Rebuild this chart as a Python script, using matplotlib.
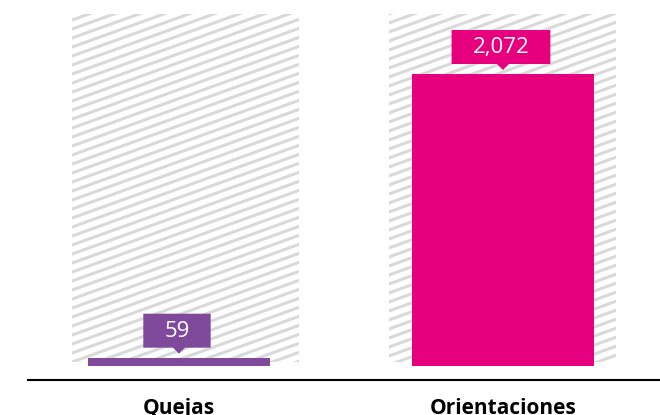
import matplotlib
matplotlib.use("Agg")
import matplotlib.pyplot as plt
import matplotlib.transforms as mtransforms
from matplotlib.patches import Polygon

plt.rcParams['font.family'] = ['Open Sans', 'DejaVu Sans']

# datos
categorias = ["Quejas", "Orientaciones"]
valores = [59, 2072]
etiquetas = ["59", "2,072"]
colores = ["#7F4A9B", "#E6007E"]
fondo_max = 2500

fig = plt.figure(figsize=(6.6, 4.15), dpi=100)
ax = fig.add_axes([28 / 660, 35 / 415, 632 / 660, 380 / 415])

pos = list(range(len(categorias)))
pos_fondo = [pos[0] + 0.02, pos[1] - 0.002]

# barras de fondo rayadas
fondos = ax.bar(pos_fondo, [fondo_max - 30] * len(pos), bottom=30, width=0.70,
                color="white", edgecolor="none", zorder=1)
barras = ax.bar(pos, valores, width=0.559, color=colores, zorder=3)

ax.set_xlim(-0.466, 1.4846)
ax.set_ylim(-99.3, 2597)

for s in ["left", "right", "top"]:
    ax.spines[s].set_visible(False)
ax.spines["bottom"].set_linewidth(1.5)
ax.set_yticks([])
ax.set_xticks(pos)
ax.set_xticklabels(categorias, fontsize=15, fontweight="bold")
ax.tick_params(axis="x", length=0, pad=13)

# rayado diagonal
ident = mtransforms.IdentityTransform()
for f in fondos:
    for k in range(-120, 60):
        y0 = k * 9
        ln, = ax.plot([0, 700], [y0, y0 + 0.36 * 700], color="#D9D9D9", lw=2.2,
                      transform=ident, zorder=2, solid_capstyle="butt")
        ln.set_clip_path(f)

# etiquetas de datos con flecha
fig.canvas.draw()
r = fig.canvas.get_renderer()
for x, v, t, c in zip(pos, valores, etiquetas, colores):
    px, py = ax.transData.transform((x, v))
    tip = py + 4
    base = tip + 6
    top = base + 34
    txt = ax.text(0, 0, t, fontsize=16, color="white", ha="center", va="center")
    w = txt.get_window_extent(renderer=r).width + 42
    txt.remove()
    cx = px - 2
    pts = [(cx - w / 2, base), (px - 6, base), (px, tip), (px + 6, base),
           (cx + w / 2, base), (cx + w / 2, top), (cx - w / 2, top)]
    ax.add_patch(Polygon(pts, closed=True, fc=c, ec="none", transform=ident,
                         zorder=4, clip_on=False))
    ax.text(cx, (base + top) / 2 - 1, t, fontsize=16, color="white", ha="center",
            va="center", transform=ident, zorder=5)

fig.savefig("out.png", dpi=100)
